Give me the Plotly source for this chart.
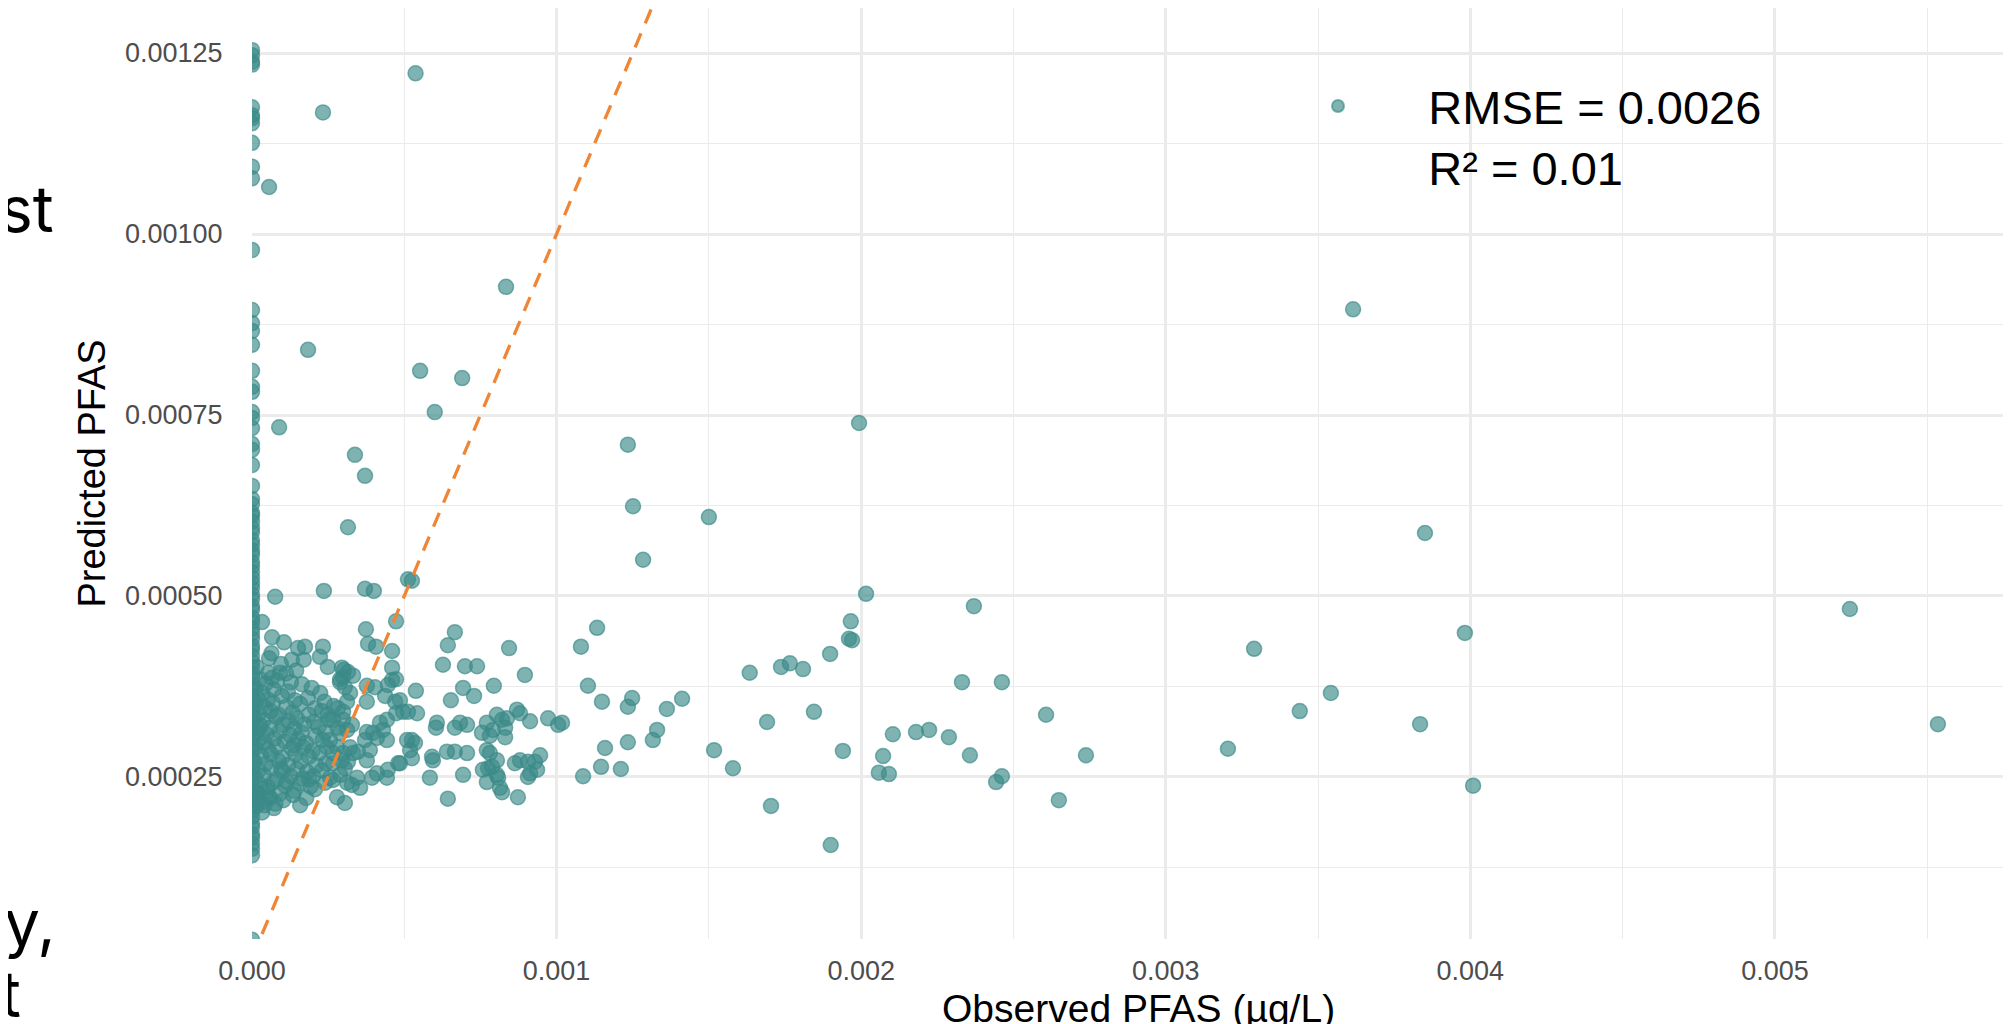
import plotly.graph_objects as go

# ---------------- data ----------------
# Predicted values for samples whose observed PFAS is 0 (the column at x = 0)
zero_obs_predicted = [
    0.001254, 0.001247, 0.001238, 0.001234, 0.001175, 0.001164, 0.001160, 0.001153,
    0.001126, 0.001093, 0.001077, 0.000978, 0.000895, 0.000877, 0.000866, 0.000847,
    0.000811, 0.000789, 0.000782, 0.000754, 0.000746, 0.000732, 0.000710, 0.000702,
    0.000681, 0.000652, 0.000634, 0.000627, 0.000615, 0.000611, 0.000603, 0.000594,
    0.000588, 0.000577, 0.000571, 0.000563, 0.000557, 0.000547, 0.000541, 0.000533,
    0.000525, 0.000518, 0.000511, 0.000502, 0.000496, 0.000486, 0.000481, 0.000470,
    0.000464, 0.000455, 0.000448, 0.000441, 0.000431, 0.000426, 0.000417, 0.000409,
    0.000402, 0.000393, 0.000387, 0.000378, 0.000372, 0.000362, 0.000356, 0.000347,
    0.000341, 0.000332, 0.000325, 0.000318, 0.000309, 0.000303, 0.000293, 0.000288,
    0.000279, 0.000272, 0.000263, 0.000257, 0.000249, 0.000240, 0.000234, 0.000225,
    0.000219, 0.000209, 0.000203, 0.000195, 0.000186, 0.000181, 0.000171, 0.000166,
    0.000158, 0.000151, 0.000142, 0.000025,
]

# Samples with a positive observed value
observed = [
    0.000537, 0.000233, 0.000056, 0.003615, 0.000834, 0.000184, 0.000552, 0.000690,
    0.000600, 0.000089, 0.001993, 0.000338, 0.001234, 0.000371, 0.001251, 0.003851,
    0.001500, 0.000315, 0.001284, 0.000512, 0.000525, 0.000076, 0.000236, 0.000371,
    0.000400, 0.002016, 0.002370, 0.005246, 0.005535, 0.003982, 0.003542, 0.003440,
    0.003835, 0.004009, 0.003290, 0.003204,
    0.001966, 0.001960, 0.001970, 0.001898, 0.001634, 0.001737, 0.001766, 0.001809,
    0.002331, 0.002462, 0.001691, 0.001845, 0.002607, 0.001517, 0.001579, 0.001940,
    0.002104, 0.002180, 0.002223, 0.002288, 0.002072, 0.002058, 0.002091, 0.002357,
    0.002738, 0.002443, 0.002462, 0.002649, 0.001704, 0.001900,
    0.000473, 0.000666, 0.001133, 0.000374, 0.000643, 0.001080, 0.000844, 0.000381,
    0.000407, 0.000460, 0.000233, 0.000174, 0.000151, 0.000105, 0.000066, 0.000033,
    0.000056, 0.000131, 0.000170, 0.000223, 0.000627, 0.000699, 0.000739, 0.000896,
    0.000460, 0.000249, 0.000092, 0.000053, 0.000066, 0.000302, 0.000332, 0.000289,
    0.000460, 0.000473, 0.000446, 0.000164, 0.001103, 0.000794, 0.000693, 0.000729,
    0.000653, 0.000538, 0.000377, 0.000404, 0.000437, 0.000377, 0.001149, 0.001248,
    0.001234, 0.001412, 0.001362, 0.001330, 0.001316, 0.001159, 0.001234, 0.001146,
    0.001211, 0.001087, 0.000972, 0.001005, 0.001018, 0.000913, 0.000880, 0.000870,
    0.000837, 0.000821, 0.000804, 0.000831, 0.000791, 0.000771, 0.000755, 0.000781,
    0.000831, 0.000706, 0.000683, 0.000666, 0.000607, 0.000604, 0.000535, 0.000525,
    0.000509, 0.000542, 0.000512, 0.000496, 0.000473, 0.000470, 0.000486, 0.000443,
    0.000430, 0.000443, 0.000420, 0.000397, 0.000410, 0.000377, 0.000371, 0.000387,
    0.000348, 0.000377, 0.000519, 0.000525, 0.000486, 0.000591, 0.000594, 0.000640,
    0.000666, 0.000706, 0.000771, 0.000781, 0.000804, 0.000880, 0.000863, 0.000906,
    0.000946, 0.000929, 0.000758, 0.000775, 0.000788, 0.000804, 0.000808, 0.000771,
    0.000693, 0.000584, 0.000643, 0.000814, 0.000821, 0.000873, 0.000906, 0.000913,
    0.000936, 0.000480, 0.000443, 0.000446, 0.000410, 0.000394, 0.000345, 0.000328,
    0.000355, 0.000312, 0.000279, 0.000305,
    0.000256, 0.000266, 0.000240, 0.000289, 0.000305, 0.000295, 0.000266, 0.000315,
    0.000332, 0.000299, 0.000322, 0.000266, 0.000279, 0.000246, 0.000256, 0.000289,
    0.000312, 0.000328, 0.000299, 0.000266, 0.000249, 0.000299, 0.000282, 0.000312,
    0.000322, 0.000305, 0.000289, 0.000299, 0.000315, 0.000295,
    0.000012, 0.000034, 0.000071, 0.000118, 0.000196, 0.000224, 0.000019, 0.000052,
    0.000098, 0.000141, 0.000183, 0.000238, 0.000011, 0.000043, 0.000069, 0.000112,
    0.000158, 0.000207, 0.000268, 0.000024, 0.000061, 0.000087, 0.000133, 0.000186,
    0.000229, 0.000009, 0.000038, 0.000079, 0.000121, 0.000148, 0.000203, 0.000252,
    0.000029, 0.000058, 0.000102, 0.000139, 0.000171, 0.000218, 0.000281, 0.000014,
    0.000047, 0.000091, 0.000124, 0.000163, 0.000209, 0.000241, 0.000021, 0.000041,
    0.000073, 0.000108, 0.000152, 0.000178, 0.000232, 0.000012, 0.000053, 0.000082,
    0.000131, 0.000169, 0.000199, 0.000031, 0.000062, 0.000099, 0.000142, 0.000187,
    0.000221, 0.000008, 0.000044, 0.000088, 0.000119, 0.000161, 0.000212, 0.000243,
    0.000022, 0.000063, 0.000101, 0.000148, 0.000181, 0.000229, 0.000011, 0.000039,
    0.000081, 0.000127, 0.000167, 0.000201, 0.000028, 0.000068, 0.000109, 0.000158,
    0.000192, 0.000013, 0.000049, 0.000092, 0.000139, 0.000021, 0.000059, 0.000103,
    0.000178, 0.000012, 0.000041, 0.000072, 0.000135, 0.000158, 0.000059,
    0.000015, 0.000027, 0.000045, 0.000083, 0.000064, 0.000112, 0.000095, 0.000145,
    0.000128, 0.000026, 0.000077, 0.000033, 0.000018, 0.000052, 0.000115, 0.000188,
    0.000207, 0.000096, 0.000137, 0.000024,
]
predicted = [
    0.001222, 0.001168, 0.001065, 0.000896, 0.000927, 0.000840, 0.000811, 0.000801,
    0.000754, 0.000733, 0.000739, 0.000695, 0.000709, 0.000666, 0.000624, 0.000587,
    0.000609, 0.000595, 0.000550, 0.000523, 0.000521, 0.000499, 0.000507, 0.000510,
    0.000507, 0.000503, 0.000486, 0.000482, 0.000323, 0.000449, 0.000366, 0.000341,
    0.000323, 0.000238, 0.000427, 0.000289,
    0.000465, 0.000441, 0.000439, 0.000420, 0.000394, 0.000402, 0.000407, 0.000399,
    0.000381, 0.000381, 0.000326, 0.000340, 0.000336, 0.000287, 0.000262, 0.000286,
    0.000309, 0.000312, 0.000315, 0.000305, 0.000279, 0.000256, 0.000254, 0.000280,
    0.000280, 0.000243, 0.000251, 0.000218, 0.000210, 0.000156,
    0.000465, 0.000450, 0.000456, 0.000454, 0.000432, 0.000430, 0.000428, 0.000434,
    0.000430, 0.000424, 0.000430, 0.000430, 0.000428, 0.000436, 0.000443, 0.000464,
    0.000414, 0.000412, 0.000412, 0.000416, 0.000405, 0.000403, 0.000403, 0.000391,
    0.000401, 0.000402, 0.000394, 0.000394, 0.000387, 0.000398, 0.000390, 0.000385,
    0.000384, 0.000385, 0.000377, 0.000378, 0.000376, 0.000376, 0.000373, 0.000362,
    0.000356, 0.000369, 0.000376, 0.000374, 0.000362, 0.000354, 0.000354, 0.000359,
    0.000347, 0.000358, 0.000344, 0.000315, 0.000301, 0.000290, 0.000298, 0.000264,
    0.000261, 0.000251, 0.000331, 0.000322, 0.000325, 0.000327, 0.000338, 0.000343,
    0.000331, 0.000329, 0.000336, 0.000318, 0.000315, 0.000325, 0.000311, 0.000307,
    0.000305, 0.000322, 0.000325, 0.000318, 0.000325, 0.000318, 0.000297, 0.000301,
    0.000301, 0.000338, 0.000340, 0.000340, 0.000338, 0.000354, 0.000356, 0.000329,
    0.000315, 0.000301, 0.000325, 0.000311, 0.000304, 0.000312, 0.000301, 0.000287,
    0.000285, 0.000273, 0.000287, 0.000276, 0.000269, 0.000278, 0.000273, 0.000285,
    0.000285, 0.000283, 0.000287, 0.000283, 0.000273, 0.000273, 0.000269, 0.000271,
    0.000280, 0.000271, 0.000260, 0.000262, 0.000264, 0.000253, 0.000249, 0.000243,
    0.000253, 0.000249, 0.000220, 0.000235, 0.000229, 0.000222, 0.000250, 0.000255,
    0.000260, 0.000269, 0.000249, 0.000260, 0.000255, 0.000249, 0.000249, 0.000239,
    0.000235, 0.000242, 0.000222, 0.000214,
    0.000249, 0.000246, 0.000242, 0.000253, 0.000262, 0.000273, 0.000269, 0.000271,
    0.000283, 0.000283, 0.000291, 0.000283, 0.000291, 0.000291, 0.000301, 0.000311,
    0.000315, 0.000322, 0.000329, 0.000329, 0.000336, 0.000340, 0.000345, 0.000354,
    0.000366, 0.000374, 0.000381, 0.000388, 0.000395, 0.000401,
    0.000372, 0.000366, 0.000371, 0.000368, 0.000373, 0.000366, 0.000359, 0.000357,
    0.000362, 0.000356, 0.000359, 0.000354, 0.000349, 0.000346, 0.000352, 0.000347,
    0.000351, 0.000345, 0.000348, 0.000338, 0.000341, 0.000336, 0.000339, 0.000336,
    0.000341, 0.000331, 0.000328, 0.000333, 0.000327, 0.000331, 0.000326, 0.000329,
    0.000321, 0.000318, 0.000322, 0.000317, 0.000323, 0.000319, 0.000318, 0.000311,
    0.000309, 0.000313, 0.000308, 0.000311, 0.000307, 0.000312, 0.000301, 0.000298,
    0.000303, 0.000299, 0.000302, 0.000297, 0.000301, 0.000291, 0.000288, 0.000292,
    0.000289, 0.000291, 0.000286, 0.000279, 0.000282, 0.000277, 0.000281, 0.000278,
    0.000283, 0.000271, 0.000268, 0.000272, 0.000267, 0.000271, 0.000266, 0.000269,
    0.000259, 0.000262, 0.000258, 0.000261, 0.000257, 0.000259, 0.000249, 0.000252,
    0.000247, 0.000251, 0.000248, 0.000251, 0.000239, 0.000242, 0.000238, 0.000241,
    0.000237, 0.000229, 0.000231, 0.000227, 0.000231, 0.000219, 0.000222, 0.000218,
    0.000221, 0.000209, 0.000211, 0.000207, 0.000225, 0.000211, 0.000221,
    0.000402, 0.000385, 0.000379, 0.000383, 0.000421, 0.000393, 0.000406, 0.000397,
    0.000381, 0.000214, 0.000213, 0.000201, 0.000228, 0.000236, 0.000244, 0.000247,
    0.000233, 0.000261, 0.000294, 0.000318,
]

rmse_label = "RMSE = 0.0026"
r2_label = "R² = 0.01"
x_title = "Observed PFAS (µg/L)"
y_title = "Predicted PFAS"
x_ticks = [0.000, 0.001, 0.002, 0.003, 0.004, 0.005]
y_ticks = [0.00025, 0.00050, 0.00075, 0.00100, 0.00125]
x_range = [0.0, 0.005775]
y_range = [0.0000262, 0.0013122]

# ---------------- figure ----------------
xs = [0.0] * len(zero_obs_predicted) + observed
ys = zero_obs_predicted + predicted

# the page body adds an 8 px margin, so the figure is 8 px smaller than the window
OFF = 8
W, H = 2011 - OFF, 1024 - OFF
ML, MR, MT, MB = 244, 0, 0, 85
PW, PH = W - ML - MR, H - MT - MB

def px_x(px):  # page pixel -> paper x
    return (px - OFF - ML) / PW

def px_y(py):  # page pixel -> paper y
    return (H - MB - (py - OFF)) / PH

teal = "rgba(58,138,136,0.65)"
fig = go.Figure()
pad = "\u00a0" * 5
fig.add_trace(go.Scatter(
    x=xs, y=ys, mode="markers",
    name=pad + rmse_label + "<br>" + pad + r2_label,
    marker=dict(size=15, color=teal, line=dict(color=teal, width=1.5)),
    hoverinfo="skip",
))
line_end = max(observed)
fig.add_trace(go.Scatter(
    x=[0.0, line_end], y=[0.0, line_end], mode="lines",
    line=dict(color="#EF8535", width=3.3, dash="15px,11px"),
    showlegend=False, hoverinfo="skip",
))

grid_major = dict(showgrid=True, gridcolor="#EBEBEB", gridwidth=2.5)
fig.update_layout(
    width=W, height=H,
    margin=dict(l=ML, r=MR, t=MT, b=MB, autoexpand=False),
    paper_bgcolor="white", plot_bgcolor="white",
    font=dict(family="Liberation Sans, Arial, sans-serif", color="black"),
    showlegend=True,
    legend=dict(
        x=(1305 - ML) / PW, y=(H - MB - 61) / PH, xanchor="left", yanchor="top",
        font=dict(size=47, color="black"), bgcolor="rgba(0,0,0,0)",
        itemsizing="constant", valign="top", itemwidth=40,
    ),
    xaxis=dict(
        range=x_range, tickvals=x_ticks, tickformat=".3f",
        tickfont=dict(size=27, color="#4D4D4D"),
        ticks="outside", ticklen=8, tickcolor="rgba(0,0,0,0)",
        zeroline=False, showline=False, automargin=False,
        minor=dict(dtick=0.0005, tick0=0, showgrid=True, gridcolor="#EBEBEB", gridwidth=1.3),
        **grid_major,
    ),
    yaxis=dict(
        range=y_range, tickvals=y_ticks, tickformat=".5f",
        tickfont=dict(size=27, color="#4D4D4D"),
        ticks="outside", ticklen=23, tickcolor="rgba(0,0,0,0)",
        zeroline=False, showline=False, automargin=False,
        minor=dict(dtick=0.000125, tick0=0, showgrid=True, gridcolor="#EBEBEB", gridwidth=1.3),
        title=dict(text=y_title, font=dict(size=38, color="black"), standoff=7),
        **grid_major,
    ),
)

# x-axis title: sits partly below the bottom edge of the picture, as in the reference
fig.add_annotation(
    text=x_title, xref="paper", yref="paper", x=px_x(1138), y=px_y(1008),
    xanchor="center", yanchor="middle", showarrow=False,
    font=dict(size=39, color="black"),
)

# fragments of slide text visible at the left edge of the picture
frag_font = dict(family="Inter, Noto Sans, sans-serif", size=64, color="black")
for txt, right_px, mid_py in [("st", 56, 208), ("y,", 58, 922), ("t", 23, 994)]:
    fig.add_annotation(
        text=txt, xref="paper", yref="paper", x=px_x(right_px), y=px_y(mid_py),
        xanchor="right", yanchor="middle", showarrow=False, font=frag_font,
    )

fig.write_html("out.html")
